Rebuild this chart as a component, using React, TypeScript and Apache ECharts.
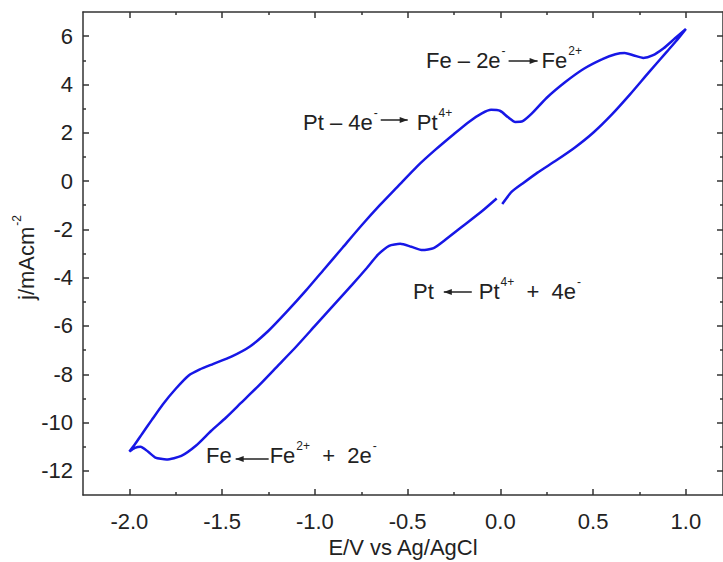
import { useEffect, useRef } from "react";
import * as echarts from "echarts";

// Cyclic voltammogram: potential (V vs Ag/AgCl) and current density (mA cm^-2), in scan order
const POTENTIAL = [
  -0.02, -0.1, -0.2, -0.3, -0.36, -0.42, -0.48, -0.54, -0.6, -0.66, -0.72, -0.8, -0.9, -1.0, -1.1, -1.2,
  -1.3, -1.4, -1.48, -1.56, -1.64, -1.72, -1.8, -1.86, -1.9, -1.94, -1.97, -2.0,
  -1.97, -1.93, -1.88, -1.82, -1.75, -1.68, -1.62, -1.55, -1.45, -1.35, -1.25, -1.15, -1.05, -0.95, -0.85,
  -0.75, -0.65, -0.55, -0.45, -0.35, -0.25, -0.17, -0.1, -0.05, 0.0, 0.04, 0.08, 0.12, 0.17, 0.25, 0.35,
  0.45, 0.55, 0.62, 0.67, 0.72, 0.77, 0.82, 0.88, 0.94, 1.0,
  0.95, 0.9, 0.8, 0.7, 0.6, 0.5, 0.4, 0.3, 0.2, 0.12, 0.06, 0.01,
];
const CURRENT = [
  -0.72, -1.25, -1.85, -2.45, -2.78, -2.86, -2.72, -2.6, -2.68, -3.05, -3.6, -4.3, -5.15, -6.0, -6.85, -7.65,
  -8.45, -9.2, -9.8, -10.35, -10.95, -11.38, -11.53, -11.45, -11.2, -11.0, -11.05, -11.2,
  -10.9, -10.45, -9.9, -9.25, -8.6, -8.05, -7.8, -7.58, -7.27, -6.85, -6.2, -5.4, -4.55, -3.65, -2.75,
  -1.85, -1.0, -0.2, 0.6, 1.3, 1.95, 2.45, 2.8, 2.95, 2.9, 2.65, 2.45, 2.48, 2.8, 3.45, 4.1,
  4.65, 5.05, 5.25, 5.3, 5.2, 5.1, 5.2, 5.5, 5.9, 6.3,
  5.82, 5.38, 4.5, 3.6, 2.75, 2.0, 1.38, 0.85, 0.35, -0.1, -0.45, -0.95,
];

const X_MAJOR = [-2.0, -1.5, -1.0, -0.5, 0.0, 0.5, 1.0];
const X_MINOR = [-1.75, -1.25, -0.75, -0.25, 0.25, 0.75];
const Y_MAJOR = [-12, -10, -8, -6, -4, -2, 0, 2, 4, 6];
const Y_MINOR = [-11, -9, -7, -5, -3, -1, 1, 3, 5];

const X_TITLE = "E/V vs Ag/AgCl";
const Y_TITLE = "j/mAcm";
const Y_TITLE_SUP = "-2";

const FONT = '"Liberation Sans", Arial, Helvetica, sans-serif';
const TEXT_COLOR = "#222";
const AXIS_COLOR = "#333";
const CURVE_COLOR = "#1717e6";

type Part =
  | { t: string }
  | { sup: string }
  | { gap: number }
  | { arrow: "left" | "right"; w: number };

const measureCtx =
  typeof document !== "undefined" ? document.createElement("canvas").getContext("2d") : null;

function textWidth(text: string, size: number): number {
  if (!measureCtx) return text.length * size * 0.55;
  measureCtx.font = `${size}px ${FONT}`;
  return measureCtx.measureText(text).width;
}

// Lays out a reaction equation (text, superscripts, arrows) on one line
function equation(x0: number, cy: number, parts: Part[], size: number, arrowDy = 0): any[] {
  const out: any[] = [];
  const supSize = Math.round(size * 0.55);
  let x = x0;
  for (const p of parts) {
    if ("t" in p) {
      out.push({
        type: "text",
        x,
        y: cy,
        style: { text: p.t, font: `${size}px ${FONT}`, fill: TEXT_COLOR, verticalAlign: "middle", align: "left" },
      });
      x += textWidth(p.t, size);
    } else if ("sup" in p) {
      out.push({
        type: "text",
        x: x + 1,
        y: cy - size * 0.42,
        style: { text: p.sup, font: `${supSize}px ${FONT}`, fill: TEXT_COLOR, verticalAlign: "middle", align: "left" },
      });
      x += textWidth(p.sup, supSize) + 1;
    } else if ("gap" in p) {
      x += p.gap;
    } else {
      const y = cy + arrowDy;
      const head = 8;
      const half = 3;
      out.push({
        type: "line",
        shape: { x1: x, y1: y, x2: x + p.w, y2: y },
        style: { stroke: TEXT_COLOR, lineWidth: 1.5 },
      });
      const tip = p.arrow === "right" ? x + p.w : x;
      const base = p.arrow === "right" ? tip - head : tip + head;
      out.push({
        type: "polygon",
        shape: { points: [[tip, y], [base, y - half], [base, y + half]] },
        style: { fill: TEXT_COLOR },
      });
      x += p.w;
    }
  }
  return out;
}

export default function App() {
  const ref = useRef<HTMLDivElement>(null);

  useEffect(() => {
    if (!ref.current) return;
    const chart = echarts.init(ref.current, null, { renderer: "svg" });
    const data = POTENTIAL.map((e, i) => [e, CURRENT[i]]);
    const lineStyle = { color: AXIS_COLOR, width: 1.5 };
    const size = 22;
    const labelStyle = { fontSize: size, color: TEXT_COLOR, fontFamily: FONT };

    const common = { type: "value" as const, splitLine: { show: false } };
    const boxLine = { show: true, onZero: false, lineStyle };
    const noLine = { show: false, onZero: false };

    const graphics: any[] = [
      ...equation(426, 60, [
        { t: "Fe – 2e" }, { sup: "-" }, { gap: 3 }, { arrow: "right", w: 29 }, { gap: 4 }, { t: "Fe" }, { sup: "2+" },
      ], size, 1),
      ...equation(303, 122, [
        { t: "Pt – 4e" }, { sup: "-" }, { gap: 3 }, { arrow: "right", w: 27 }, { gap: 9 }, { t: "Pt" }, { sup: "4+" },
      ], size, -2),
      ...equation(413, 291, [
        { t: "Pt" }, { gap: 10 }, { arrow: "left", w: 28 }, { gap: 7 }, { t: "Pt" }, { sup: "4+" }, { t: "  +  4e" }, { sup: "-" },
      ], size, 1),
      ...equation(206, 455, [
        { t: "Fe" }, { gap: 4 }, { arrow: "left", w: 33 }, { gap: 1 }, { t: "Fe" }, { sup: "2+" }, { t: "  +  2e" }, { sup: "-" },
      ], size, 4),
      {
        type: "text",
        x: 403,
        y: 547,
        style: { text: X_TITLE, font: `${size}px ${FONT}`, fill: TEXT_COLOR, align: "center", verticalAlign: "middle" },
      },
      {
        type: "group",
        x: 26,
        y: 300,
        rotation: Math.PI / 2,
        children: [
          {
            type: "text",
            x: 0,
            y: 0,
            style: { text: Y_TITLE, font: `${size}px ${FONT}`, fill: TEXT_COLOR, align: "left", verticalAlign: "middle" },
          },
          {
            type: "text",
            x: textWidth(Y_TITLE, size) + 1,
            y: -size * 0.42,
            style: { text: Y_TITLE_SUP, font: `${Math.round(size * 0.55)}px ${FONT}`, fill: TEXT_COLOR, align: "left", verticalAlign: "middle" },
          },
        ],
      },
    ];

    chart.setOption({
      animation: false,
      backgroundColor: "#fff",
      grid: { left: 83, right: 0, top: 12, bottom: 67, containLabel: false },
      xAxis: [
        {
          ...common, position: "bottom", min: -2.25, max: 1.2,
          axisLine: boxLine,
          axisTick: { show: true, inside: true, length: 6, customValues: X_MAJOR, lineStyle },
          axisLabel: { ...labelStyle, margin: 15, customValues: X_MAJOR, formatter: (v: number) => v.toFixed(1) },
        },
        {
          ...common, position: "bottom", min: -2.25, max: 1.2,
          axisLine: noLine,
          axisTick: { show: true, inside: true, length: 3, customValues: X_MINOR, lineStyle },
          axisLabel: { show: false },
        },
        {
          ...common, position: "top", min: -2.25, max: 1.2,
          axisLine: boxLine,
          axisTick: { show: true, inside: true, length: 6, customValues: X_MAJOR, lineStyle },
          axisLabel: { show: false },
        },
        {
          ...common, position: "top", min: -2.25, max: 1.2,
          axisLine: noLine,
          axisTick: { show: true, inside: true, length: 3, customValues: X_MINOR, lineStyle },
          axisLabel: { show: false },
        },
      ],
      yAxis: [
        {
          ...common, position: "left", min: -13, max: 7,
          axisLine: boxLine,
          axisTick: { show: true, inside: true, length: 6, customValues: Y_MAJOR, lineStyle },
          axisLabel: { ...labelStyle, margin: 10, customValues: Y_MAJOR, formatter: (v: number) => String(v) },
        },
        {
          ...common, position: "left", min: -13, max: 7,
          axisLine: noLine,
          axisTick: { show: true, inside: true, length: 3, customValues: Y_MINOR, lineStyle },
          axisLabel: { show: false },
        },
        {
          ...common, position: "right", min: -13, max: 7,
          axisLine: boxLine,
          axisTick: { show: true, inside: true, length: 6, customValues: Y_MAJOR, lineStyle },
          axisLabel: { show: false },
        },
        {
          ...common, position: "right", min: -13, max: 7,
          axisLine: noLine,
          axisTick: { show: true, inside: true, length: 3, customValues: Y_MINOR, lineStyle },
          axisLabel: { show: false },
        },
      ],
      series: [
        {
          type: "line",
          xAxisIndex: 0,
          yAxisIndex: 0,
          data,
          showSymbol: false,
          smooth: 0.2,
          lineStyle: { color: CURVE_COLOR, width: 2.5 },
          silent: true,
        },
      ],
      graphic: graphics,
    });
    return () => chart.dispose();
  }, []);

  return <div ref={ref} style={{ width: 723, height: 562, position: "absolute", left: 0, top: 0 }} />;
}
